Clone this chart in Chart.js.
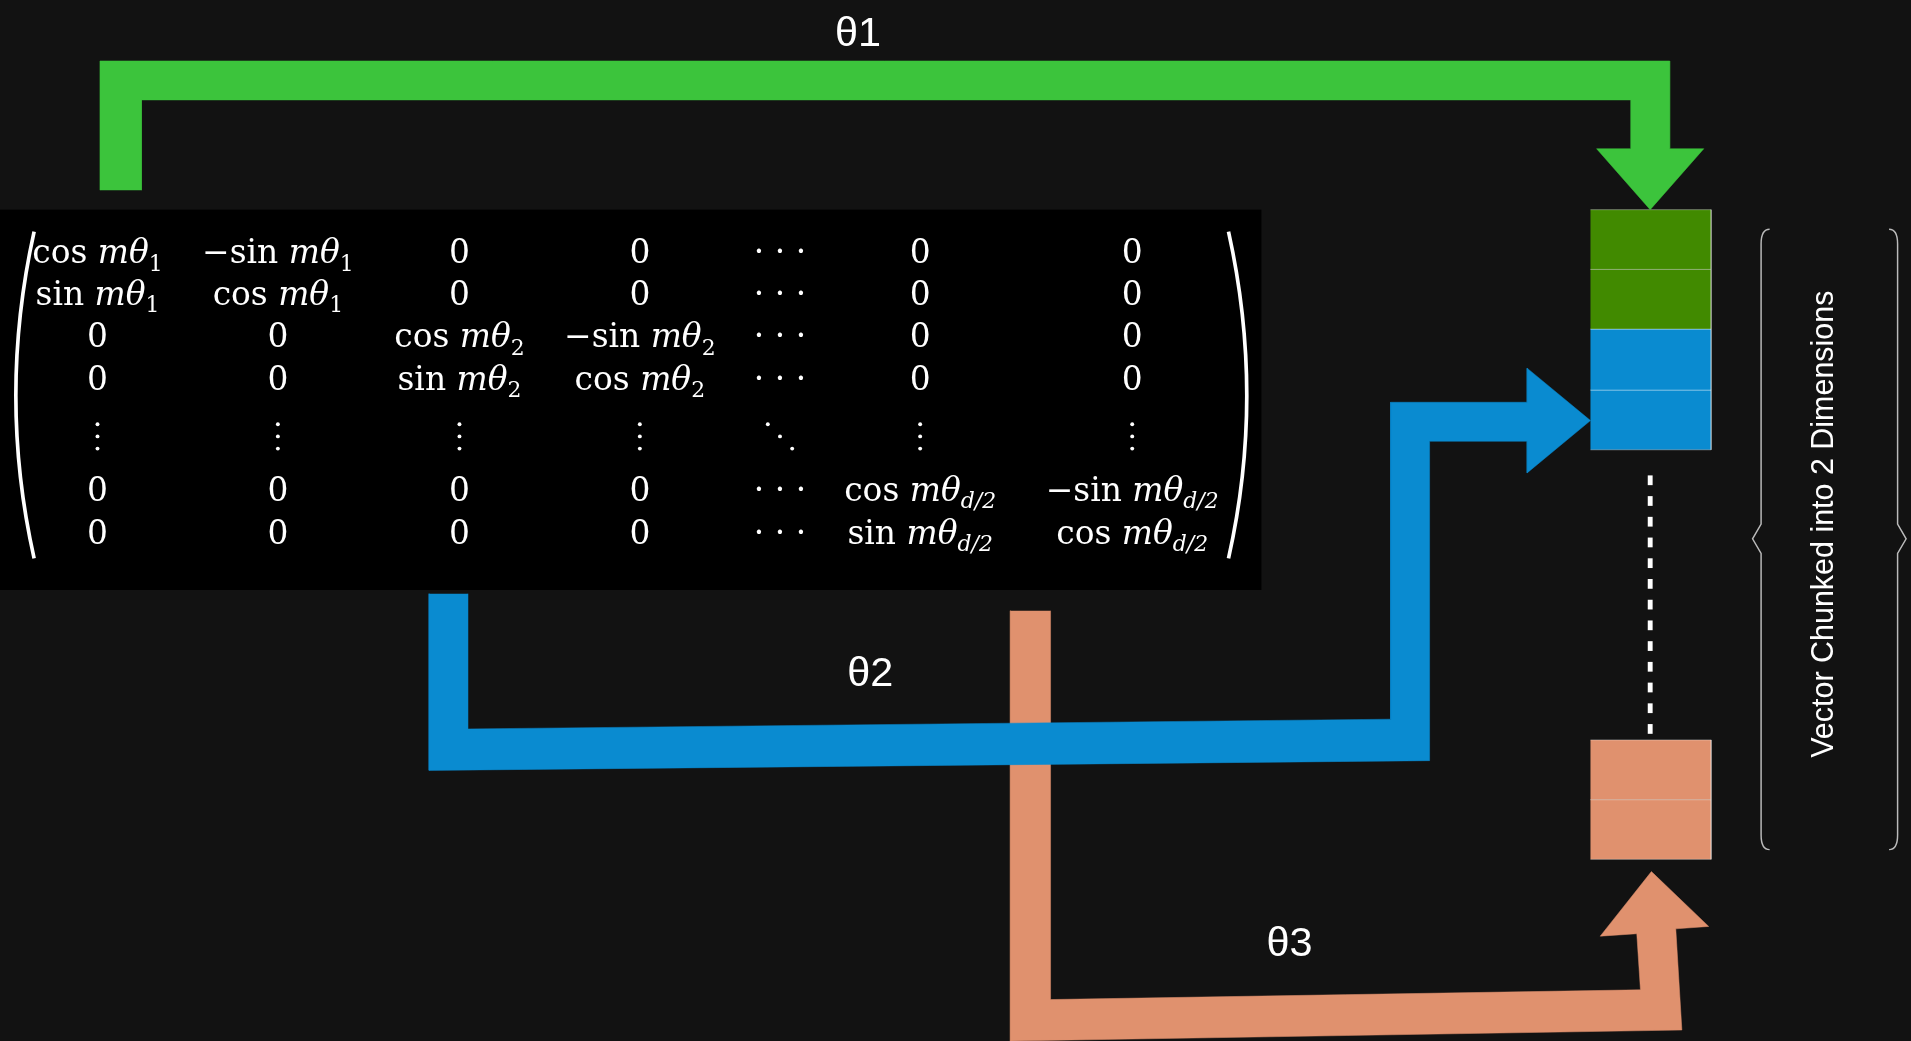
<!DOCTYPE html>
<html><head><meta charset="utf-8">
<script src="https://cdn.jsdelivr.net/npm/chart.js@4"></script>
<style>html,body{margin:0;background:#121212;overflow:hidden}#wrap{width:1911px;height:1041px}</style>
</head><body><div id="wrap"><canvas id="c"></canvas></div>
<script>
// diagram coordinates in a 1568 x 854 space
const greenArrow = [[82,156],[82,50],[1370,50],[1370,122],[1398,122],[1354,172],[1310,122],[1338,122],[1338,82],[116,82],[116,156]];
const blueArrow = [[352,487],[352,632],[1173,624],[1173,362],[1253,362],[1253,388],[1305,345],[1253,302],[1253,330],[1141,330],[1141,590],[384,598],[384,487]];
const orangeArrow = [[829,501],[829,854],[1380,845],[1375,762],[1402,760],[1355,715],[1313,768],[1343,766],[1346,812],[862,820],[862,501]];
const blocks = [
  {y0:172,y1:221,c:'#418a00'},{y0:221,y1:270,c:'#418a00'},
  {y0:270,y1:320,c:'#0a8bd0'},{y0:320,y1:369,c:'#0a8bd0'},
  {y0:607,y1:656,c:'#e0916e'},{y0:656,y1:705,c:'#e0916e'}];
const thetaLabels = [['θ1',704,28],['θ2',714,553],['θ3',1058,775]];
const colX = [80,228,377,525,640,755,929];
const rowY = [207,241,276,311,360,402,437];
// matrix cells: 'c1' = cos mθ1, 's1' sin, 'n1' -sin, '0', '…', 'v' vdots, 'd' ddots; k = 'd' => d/2
const matrix = [
  ['c1','n1','0','0','…','0','0'],
  ['s1','c1','0','0','…','0','0'],
  ['0','0','c2','n2','…','0','0'],
  ['0','0','s2','c2','…','0','0'],
  ['v','v','v','v','d','v','v'],
  ['0','0','0','0','…','cd','nd'],
  ['0','0','0','0','…','sd','cd']];

const poly = (pts,color)=>({data:pts.map(p=>({x:p[0],y:p[1]})),backgroundColor:color,borderColor:color,borderWidth:0.5,fill:'shape',pointRadius:0,tension:0,showLine:true});
const datasets = [poly(greenArrow,'#3cc43c'),poly(blueArrow,'#0a8bd0'),poly(orangeArrow,'#e0916e')];
blocks.forEach(b=>datasets.push({...poly([[1305,b.y0],[1404,b.y0],[1404,b.y1],[1305,b.y1]],b.c),borderColor:'rgba(255,255,255,0.35)',borderWidth:1}));

const overlay = {
  id:'overlay',
  beforeDatasetsDraw(chart){
    const {ctx,scales:{x,y}} = chart, s = chart.width/1568;
    const X=v=>x.getPixelForValue(v), Y=v=>y.getPixelForValue(v);
    ctx.save();
    ctx.fillStyle='#000';
    ctx.fillRect(X(0),Y(172),X(1035)-X(0),Y(484)-Y(172));
    ctx.restore();
  },
  afterDatasetsDraw(chart){
    const {ctx,scales:{x,y}} = chart, s = chart.width/1568;
    const X=v=>x.getPixelForValue(v), Y=v=>y.getPixelForValue(v);
    ctx.save();
    // matrix cover drawn over arrow stubs? stubs start below matrix, so draw text only
    ctx.fillStyle='#fff'; ctx.textBaseline='alphabetic';
    const F=(sz,it)=>`${it?'italic ':''}${sz*s}px "DejaVu Serif","Liberation Serif",serif`;
    function cell(code,cx,cy){
      let parts;
      if(code==='0') parts=[['0',0,0]];
      else if(code==='…') parts=[['· · ·',0,0]];
      else {
        const fn={c:'cos ',s:'sin ',n:'−sin '}[code[0]];
        const k = code[1]==='d'?'d/2':code[1];
        parts=[[fn,0,0],['mθ',1,0],[k,k==='d/2'?1:0,1]];
      }
      if(code==='v'){ctx.font=F(26,0);ctx.textAlign='center';for(let i=0;i<3;i++){ctx.beginPath();ctx.arc(X(cx),Y(cy-12+i*10),1.6*s,0,7);ctx.fill();}return;}
      if(code==='d'){for(let i=0;i<3;i++){ctx.beginPath();ctx.arc(X(cx-10+i*10),Y(cy-12+i*10),1.6*s,0,7);ctx.fill();}return;}
      let w=0; const ws=parts.map(p=>{ctx.font=F(p[2]?18:27,p[1]);const m=ctx.measureText(p[0]).width;w+=m;return m;});
      let px=X(cx)-w/2; ctx.textAlign='left';
      parts.forEach((p,i)=>{ctx.font=F(p[2]?18:27,p[1]);ctx.fillText(p[0],px,Y(cy+9+(p[2]?6:0)));px+=ws[i];});
    }
    matrix.forEach((row,r)=>row.forEach((c,ci)=>cell(c,colX[ci],rowY[r])));
    // parentheses
    ctx.strokeStyle='#fff'; ctx.lineWidth=3*s;
    ctx.beginPath();ctx.moveTo(X(28),Y(190));ctx.quadraticCurveTo(X(-2),Y(325),X(28),Y(458));ctx.stroke();
    ctx.beginPath();ctx.moveTo(X(1008),Y(190));ctx.quadraticCurveTo(X(1038),Y(325),X(1008),Y(458));ctx.stroke();
    // dotted line
    ctx.fillStyle='#fff';
    for(let v=390;v<=605;v+=17){ctx.fillRect(X(1352),Y(v),4*s,8*s);}
    // brace
    ctx.strokeStyle='#bbb'; ctx.lineWidth=1.2*s;
    ctx.beginPath();
    ctx.moveTo(X(1452),Y(188));ctx.quadraticCurveTo(X(1445),Y(188),X(1445),Y(200));
    ctx.lineTo(X(1445),Y(430));ctx.lineTo(X(1438),Y(442));ctx.lineTo(X(1445),Y(454));
    ctx.lineTo(X(1445),Y(685));ctx.quadraticCurveTo(X(1445),Y(697),X(1452),Y(697));ctx.stroke();
    ctx.beginPath();
    ctx.moveTo(X(1550),Y(188));ctx.quadraticCurveTo(X(1557),Y(188),X(1557),Y(200));
    ctx.lineTo(X(1557),Y(430));ctx.lineTo(X(1564),Y(442));ctx.lineTo(X(1557),Y(454));
    ctx.lineTo(X(1557),Y(685));ctx.quadraticCurveTo(X(1557),Y(697),X(1550),Y(697));ctx.stroke();
    // vertical label
    ctx.save();ctx.translate(X(1497),Y(430));ctx.rotate(-Math.PI/2);
    ctx.font=`${25*s}px "Liberation Sans",Arial,sans-serif`;ctx.textAlign='center';ctx.textBaseline='middle';
    ctx.fillText('Vector Chunked into 2 Dimensions',0,0);ctx.restore();
    // theta labels
    ctx.font=`${34*s}px "Liberation Sans",Arial,sans-serif`;ctx.textAlign='center';ctx.textBaseline='middle';
    thetaLabels.forEach(([t,lx,ly])=>ctx.fillText(t,X(lx),Y(ly)));
    ctx.restore();
  }
};

new Chart(document.getElementById('c'),{
  type:'scatter',
  data:{datasets},
  options:{responsive:true,maintainAspectRatio:false,animation:false,
    layout:{padding:0},
    plugins:{legend:{display:false},tooltip:{enabled:false}},
    scales:{x:{type:'linear',min:0,max:1568,display:false},
            y:{type:'linear',min:0,max:854,reverse:true,display:false}}},
  plugins:[overlay]
});
</script></body></html>
